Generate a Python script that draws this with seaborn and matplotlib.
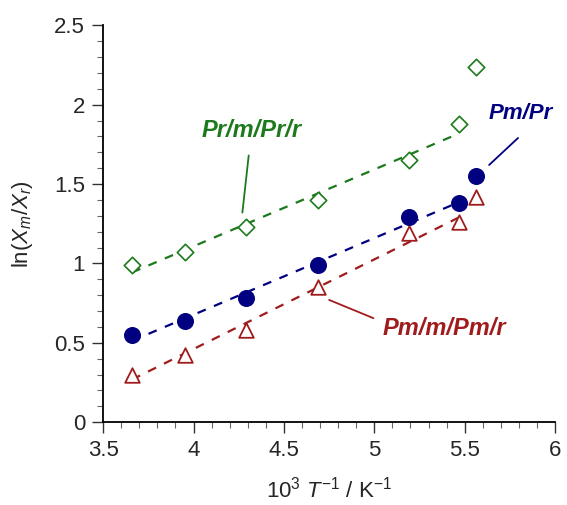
import numpy as np
import pandas as pd
import matplotlib
matplotlib.use('Agg')
from matplotlib import pyplot as plt
from matplotlib.ticker import MultipleLocator, FormatStrFormatter
import seaborn as sns

sns.set_theme(style='ticks')
plt.rcParams['font.family'] = ['Liberation Sans', 'DejaVu Sans']
plt.rcParams['mathtext.fontset'] = 'custom'
plt.rcParams['mathtext.it'] = 'Liberation Sans:italic'
plt.rcParams['mathtext.rm'] = 'Liberation Sans'

# 10^3 / T values
inv_t = [3.66, 3.95, 4.29, 4.69, 5.19, 5.47, 5.56]
# ln(Xm/Xr) for each pair
pm_pr = [0.55, 0.64, 0.78, 0.99, 1.29, 1.38, 1.55]
pmm_pmr = [0.30, 0.42, 0.58, 0.85, 1.19, 1.26, 1.42]
prm_prr = [0.99, 1.07, 1.23, 1.40, 1.65, 1.88, 2.24]

blue = '#000080'
red = '#a01c1c'
green = '#1c7a1c'

fig, ax = plt.subplots(figsize=(5.67, 5.05), dpi=100)
fig.subplots_adjust(left=0.182, right=0.979, bottom=0.164, top=0.950)

# dashed fit lines through the first six points
for ys, c in [(prm_prr, green), (pm_pr, blue), (pmm_pmr, red)]:
    sns.regplot(x=inv_t[:6], y=ys[:6], ax=ax, scatter=False, ci=None, truncate=True,
                line_kws=dict(color=c, lw=1.6, ls=(0, (4, 4))))

sns.scatterplot(x=inv_t, y=prm_prr, ax=ax, marker='D', s=70, facecolor='white',
                edgecolor=green, linewidth=1.2, zorder=3)
sns.scatterplot(x=inv_t, y=pmm_pmr, ax=ax, marker='^', s=110, facecolor='white',
                edgecolor=red, linewidth=1.3, zorder=3)
sns.scatterplot(x=inv_t, y=pm_pr, ax=ax, marker='o', s=150, color=blue,
                edgecolor=blue, linewidth=0, zorder=4)

ax.set_xlim(3.5, 6)
ax.set_ylim(0, 2.5)
ax.xaxis.set_major_locator(MultipleLocator(0.5))
ax.xaxis.set_minor_locator(MultipleLocator(0.1))
ax.yaxis.set_major_locator(MultipleLocator(0.5))
ax.yaxis.set_minor_locator(MultipleLocator(0.1))
ax.xaxis.set_major_formatter(FormatStrFormatter('%g'))
ax.yaxis.set_major_formatter(FormatStrFormatter('%g'))
ax.tick_params(which='major', length=8, width=1, labelsize=16, color='#333333', pad=5)
ax.tick_params(which='minor', length=4, width=0.8, color='#666666')
sns.despine(ax=ax)
for s in ['left', 'bottom']:
    ax.spines[s].set_linewidth(1.3)
    ax.spines[s].set_color('black')

ax.set_xlabel(r'10$^3$ $T^{-1}$ / K$^{-1}$', fontsize=16, labelpad=11)
ax.set_ylabel(r'ln($X_m$/$X_r$)', fontsize=16, labelpad=14)

lab = dict(fontsize=17, fontweight='bold', fontstyle='italic', va='center')
line = dict(arrowstyle='-', lw=1.3, shrinkA=0, shrinkB=0)

ax.text(4.32, 1.84, 'Pr/m/Pr/r', color=green, ha='center', **lab)
ax.annotate('', xy=(4.27, 1.32), xytext=(4.305, 1.68), arrowprops=dict(color=green, **line))

ax.text(5.985, 1.945, 'Pm/Pr', color=blue, ha='right',
        **dict(lab, fontsize=16))
ax.annotate('', xy=(5.635, 1.62), xytext=(5.795, 1.79), arrowprops=dict(color=blue, **line))

ax.text(5.39, 0.59, 'Pm/m/Pm/r', color=red, ha='center', **lab)
ax.annotate('', xy=(4.75, 0.77), xytext=(4.995, 0.655), arrowprops=dict(color=red, **line))

fig.savefig('out.png', dpi=100)
